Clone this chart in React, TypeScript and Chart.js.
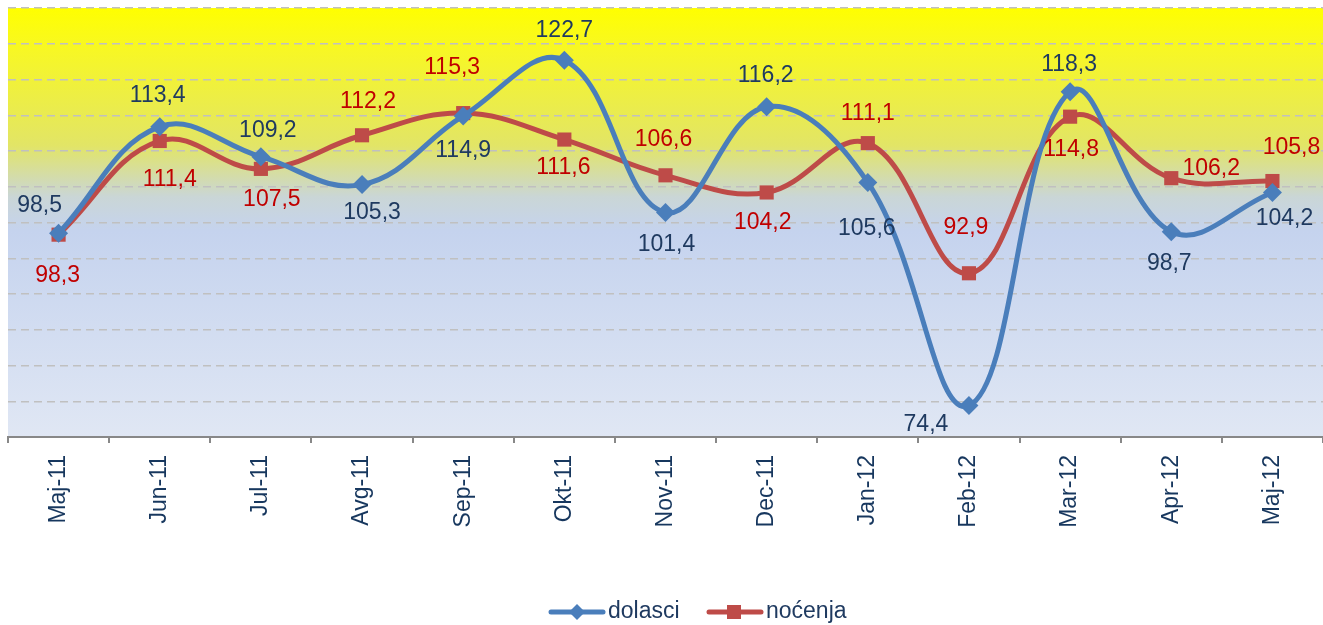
import React, { useEffect, useRef } from "react";
import { Chart, registerables } from "chart.js";

Chart.register(...registerables);

const categories = ["Maj-11", "Jun-11", "Jul-11", "Avg-11", "Sep-11", "Okt-11", "Nov-11", "Dec-11", "Jan-12", "Feb-12", "Mar-12", "Apr-12", "Maj-12"];
const dolasci = [98.5, 113.4, 109.2, 105.3, 114.9, 122.7, 101.4, 116.2, 105.6, 74.4, 118.3, 98.7, 104.2];
const nocenja = [98.3, 111.4, 107.5, 112.2, 115.3, 111.6, 106.6, 104.2, 111.1, 92.9, 114.8, 106.2, 105.8];
const yMin = 70;
const yMax = 130;
const yStep = 5;

// label offsets (style) relative to each point
const dolasciLabelOffsets = [[-19, -28], [-2, -31], [7, -26], [10, 28], [0, 35], [0, -30], [1, 32], [-1, -31], [-1, 46], [-43, 19], [-1, -27], [-2, 32], [12, 26]];
const nocenjaLabelOffsets = [[-1, 41], [10, 39], [11, 31], [6, -34], [-11, -45], [-1, 28], [-2, -36], [-4, 30], [0, -29], [-3, -46], [1, 33], [40, -10], [19, -33]];

const BLUE = "#4A7EBB";
const RED = "#BE4B48";
const NAVY = "#1F3A60";
const LABEL_RED = "#C00000";
const FONT = "'Liberation Sans', Arial, sans-serif";
const FONT_SIZE = 23;

const fmt = (v: number) => v.toFixed(1).replace(".", ",");

const bgPlugin = {
  id: "bgGradient",
  beforeDraw(chart: any) {
    const { ctx, chartArea } = chart;
    if (!chartArea) return;
    const g = ctx.createLinearGradient(0, chartArea.top, 0, chartArea.bottom);
    g.addColorStop(0, "#FFFF00");
    g.addColorStop(0.1, "#F7F725");
    g.addColorStop(0.32, "#E2E566");
    g.addColorStop(0.44, "#CAD6D6");
    g.addColorStop(0.52, "#C5D3EE");
    g.addColorStop(1, "#E0E7F4");
    ctx.save();
    ctx.fillStyle = g;
    ctx.fillRect(chartArea.left, chartArea.top, chartArea.right - chartArea.left, chartArea.bottom - chartArea.top);
    ctx.restore();
  },
};

const labelPlugin = {
  id: "pointLabels",
  afterDatasetsDraw(chart: any) {
    const { ctx } = chart;
    const cfg = [
      { offsets: dolasciLabelOffsets, color: NAVY },
      { offsets: nocenjaLabelOffsets, color: LABEL_RED },
    ];
    ctx.save();
    ctx.font = `${FONT_SIZE}px ${FONT}`;
    ctx.textAlign = "center";
    ctx.textBaseline = "middle";
    chart.data.datasets.forEach((ds: any, di: number) => {
      const meta = chart.getDatasetMeta(di);
      ctx.fillStyle = cfg[di].color;
      meta.data.forEach((el: any, i: number) => {
        const [dx, dy] = cfg[di].offsets[i];
        ctx.fillText(fmt(ds.data[i]), el.x + dx, el.y + dy);
      });
    });
    ctx.restore();
  },
};

const legendPlugin = {
  id: "customLegend",
  afterDraw(chart: any) {
    const { ctx } = chart;
    const y = 612;
    ctx.save();
    ctx.lineWidth = 5;
    ctx.lineCap = "round";
    // dolasci
    ctx.strokeStyle = BLUE;
    ctx.beginPath();
    ctx.moveTo(551, y);
    ctx.lineTo(603, y);
    ctx.stroke();
    ctx.fillStyle = BLUE;
    ctx.beginPath();
    ctx.moveTo(577, y - 8);
    ctx.lineTo(585, y);
    ctx.lineTo(577, y + 8);
    ctx.lineTo(569, y);
    ctx.closePath();
    ctx.fill();
    // nocenja
    ctx.strokeStyle = RED;
    ctx.beginPath();
    ctx.moveTo(709, y);
    ctx.lineTo(761, y);
    ctx.stroke();
    ctx.fillStyle = RED;
    ctx.fillRect(727, y - 7, 14, 14);
    ctx.font = `${FONT_SIZE}px ${FONT}`;
    ctx.fillStyle = NAVY;
    ctx.textAlign = "left";
    ctx.textBaseline = "middle";
    ctx.fillText("dolasci", 608, y);
    ctx.fillText("noćenja", 766, y);
    ctx.restore();
  },
};

export default function App() {
  const ref = useRef<HTMLCanvasElement | null>(null);
  useEffect(() => {
    if (!ref.current) return;
    const chart = new Chart(ref.current, {
      type: "line",
      data: {
        labels: categories,
        datasets: [
          {
            label: "dolasci",
            data: dolasci,
            borderColor: BLUE,
            backgroundColor: BLUE,
            borderWidth: 5,
            tension: 0.4,
            pointStyle: "rectRot",
            pointRadius: 9.5,
            pointBorderWidth: 0,
            pointBackgroundColor: BLUE,
            fill: false,
          },
          {
            label: "noćenja",
            data: nocenja,
            borderColor: RED,
            backgroundColor: RED,
            borderWidth: 5,
            tension: 0.4,
            pointStyle: "rect",
            pointRadius: 10,
            pointBorderWidth: 0,
            pointBackgroundColor: RED,
            fill: false,
          },
        ],
      },
      options: {
        animation: false,
        responsive: false,
        maintainAspectRatio: false,
        layout: { autoPadding: false, padding: { left: 8, top: 8, right: 0, bottom: 0 } },
        plugins: {
          legend: { display: false },
          tooltip: { enabled: false },
        },
        scales: {
          x: {
            offset: true,
            grid: {
              offset: true,
              drawOnChartArea: false,
              drawTicks: true,
              tickLength: 6,
              color: "#888888",
              lineWidth: 2,
            },
            border: { display: true, color: "#888888", width: 2 },
            ticks: {
              minRotation: 90,
              maxRotation: 90,
              autoSkip: false,
              padding: 12,
              color: "#17375E",
              font: { family: FONT, size: FONT_SIZE },
            },
            afterFit(scale: any) {
              scale.height = 188;
              scale.paddingLeft = 0;
              scale.paddingRight = 0;
            },
          },
          y: {
            min: yMin,
            max: yMax,
            ticks: { display: false, stepSize: yStep },
            grid: { color: "#C0C0C0", lineWidth: 1.5, drawTicks: false },
            border: { display: false, dash: [8, 5] },
          },
        },
      },
      plugins: [bgPlugin, labelPlugin, legendPlugin],
    });
    return () => chart.destroy();
  }, []);
  return (
    <div style={{ position: "absolute", left: 0, top: 0, width: 1323, height: 625, background: "#fff" }}>
      <canvas ref={ref} width={1323} height={625} style={{ display: "block" }} />
    </div>
  );
}
